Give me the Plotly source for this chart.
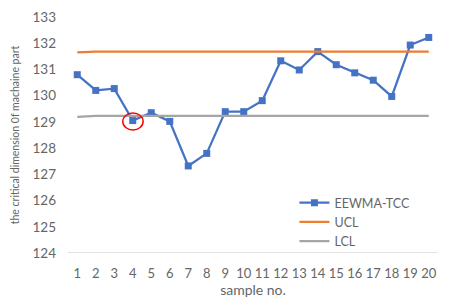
import plotly.graph_objects as go

samples = list(range(1, 21))
eewma_tcc = [130.8, 130.2, 130.27, 129.05, 129.35, 129.02, 127.32, 127.8, 129.39, 129.39,
             129.81, 131.33, 130.98, 131.68, 131.18, 130.87, 130.59, 129.97, 131.93, 132.22]
ucl = [131.65] + [131.68] * 19
lcl = [129.19] + [129.23] * 19
y_ticks = list(range(124, 134))

FONT = "Lato"
GRAY = "#666666"

fig = go.Figure()
fig.add_trace(go.Scatter(x=samples, y=eewma_tcc, name="EEWMA-TCC", mode="lines+markers",
                         line=dict(color="#4472C4", width=2.25),
                         marker=dict(symbol="square", size=7, color="#4472C4")))
fig.add_trace(go.Scatter(x=samples, y=ucl, name="UCL", mode="lines",
                         line=dict(color="#ED7D31", width=2.25)))
fig.add_trace(go.Scatter(x=samples, y=lcl, name="LCL", mode="lines",
                         line=dict(color="#A5A5A5", width=2.25)))

# red circle highlighting sample 4
fig.add_shape(type="circle", xref="x", yref="y",
              x0=samples[3] - 0.54, x1=samples[3] + 0.56,
              y0=eewma_tcc[3] - 0.36, y1=eewma_tcc[3] + 0.29,
              line=dict(color="#FF0000", width=1.5))

fig.update_layout(
    width=450, height=304,
    margin=dict(l=60, r=20, t=9, b=59),
    paper_bgcolor="white", plot_bgcolor="white",
    font=dict(family=FONT, color=GRAY),
    showlegend=True,
    legend=dict(x=0.612, y=0.275, xanchor="left", yanchor="top",
                font=dict(size=12.5, color=GRAY, family=FONT),
                itemwidth=30, tracegroupgap=0, bgcolor="rgba(0,0,0,0)"),
    xaxis=dict(range=[0.5, 20.5], tickmode="array", tickvals=samples,
               ticktext=[str(s) for s in samples], automargin=False,
               showgrid=False, zeroline=False, showline=False,
               tickfont=dict(size=13, color=GRAY), ticks="",
               ticklabelstandoff=11,
               title=dict(text="sample no.", font=dict(size=14, color=GRAY), standoff=2)),
    yaxis=dict(range=[124, 133], tickmode="array", tickvals=y_ticks, automargin=False,
               showgrid=False, zeroline=False, showline=False,
               tickfont=dict(size=13.5, color=GRAY), ticks="",
               ticklabelstandoff=11,
               title=dict(text="the critical dimension 0f machaine part",
                          font=dict(size=10.5, color=GRAY), standoff=10)),
)

# bottom axis line (category axis baseline at 124)
fig.add_shape(type="line", xref="paper", yref="y", x0=0, x1=1, y0=124, y1=124,
              line=dict(color="#D9D9D9", width=1.5), layer="below")

fig.write_html("out.html")
